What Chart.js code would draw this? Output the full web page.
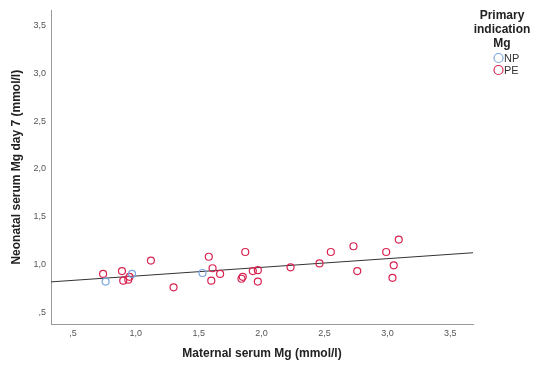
<!DOCTYPE html>
<html>
<head>
<meta charset="utf-8">
<script src="https://cdn.jsdelivr.net/npm/chart.js@4/dist/chart.umd.min.js"></script>
<style>
  html, body { margin: 0; padding: 0; background: #fff; }
  #wrap { width: 537px; height: 367px; }
</style>
</head>
<body>
<div id="wrap"><canvas id="chart" width="537" height="367"></canvas></div>
<script>
// NP points (maternal Mg, neonatal Mg day 7)
const npX = [0.76, 0.97, 1.53];
const npY = [0.82, 0.90, 0.91];

// PE points
const peX = [0.74, 0.89, 0.90, 0.95, 0.94, 1.12, 1.30, 1.58, 1.61, 1.60, 1.67, 1.87, 1.85, 1.84,
             1.93, 1.97, 1.97, 2.23, 2.46, 2.55, 2.73, 2.76, 2.99, 3.09, 3.05, 3.04];
const peY = [0.90, 0.93, 0.83, 0.87, 0.84, 1.04, 0.76, 1.08, 0.96, 0.83, 0.90, 1.13, 0.87, 0.85,
             0.93, 0.94, 0.82, 0.97, 1.01, 1.13, 1.19, 0.93, 1.13, 1.26, 0.99, 0.86];

// fit line end points
const fitX = [0.326, 3.68];
const fitY = [0.817, 1.122];

const xTicks = [0.5, 1.0, 1.5, 2.0, 2.5, 3.0, 3.5];
const yTicks = [0.5, 1.0, 1.5, 2.0, 2.5, 3.0, 3.5];

const npColor = "#79a6e0";
const peColor = "#d92452";

function toPoints(xs, ys) {
  return xs.map((x, i) => ({ x: x, y: ys[i] }));
}

function fmt(v) {
  if (v === 0.5) return ",5";
  return v.toFixed(1).replace(".", ",");
}

const overlay = {
  id: "overlay",
  afterDraw(chart) {
    const ctx = chart.ctx;
    const area = chart.chartArea;
    ctx.save();
    ctx.fillStyle = "#222";
    ctx.font = "bold 12px 'Liberation Sans', Arial, sans-serif";
    ctx.textAlign = "center";
    ctx.textBaseline = "middle";
    // x title
    ctx.fillText("Maternal serum Mg (mmol/l)", (area.left + area.right) / 2, 354);
    // y title
    ctx.save();
    ctx.translate(17, (area.top + area.bottom) / 2);
    ctx.rotate(-Math.PI / 2);
    ctx.fillText("Neonatal serum Mg day 7 (mmol/l)", 0, 0);
    ctx.restore();

    // legend
    ctx.fillText("Primary", 502, 16);
    ctx.fillText("indication", 502, 30);
    ctx.fillText("Mg", 502, 44);
    const items = [["NP", npColor, 58], ["PE", peColor, 70]];
    ctx.font = "11px 'Liberation Sans', Arial, sans-serif";
    ctx.textAlign = "left";
    items.forEach(([label, color, y]) => {
      ctx.beginPath();
      ctx.arc(498.5, y, 4.5, 0, Math.PI * 2);
      ctx.strokeStyle = color;
      ctx.lineWidth = 1.2;
      ctx.stroke();
      ctx.fillStyle = "#333";
      ctx.fillText(label, 504, y + 0.5);
    });
    ctx.restore();
  },
};

new Chart(document.getElementById("chart"), {
  type: "scatter",
  data: {
    datasets: [
      {
        label: "Fit",
        type: "line",
        data: toPoints(fitX, fitY),
        borderColor: "#333",
        borderWidth: 1,
        pointRadius: 0,
        fill: false,
        order: 3,
      },
      {
        label: "NP",
        data: toPoints(npX, npY),
        borderColor: npColor,
        backgroundColor: "rgba(0,0,0,0)",
        pointRadius: 3.5,
        pointBorderWidth: 1.2,
        order: 1,
      },
      {
        label: "PE",
        data: toPoints(peX, peY),
        borderColor: peColor,
        backgroundColor: "rgba(0,0,0,0)",
        pointRadius: 3.5,
        pointBorderWidth: 1.2,
        order: 2,
      },
    ],
  },
  options: {
    responsive: false,
    animation: false,
    layout: { padding: { left: 0, right: 64, top: 5, bottom: 0 } },
    plugins: {
      legend: { display: false },
      tooltip: { enabled: false },
    },
    scales: {
      x: {
        type: "linear",
        min: 0.326,
        max: 3.68,
        afterFit: (scale) => { scale.height = 43; },
        afterBuildTicks: (scale) => { scale.ticks = xTicks.map((v) => ({ value: v })); },
        grid: { display: false, drawTicks: false },
        border: { display: true, color: "#999", width: 1 },
        ticks: {
          padding: 4,
          color: "#555",
          font: { size: 9, family: "'Liberation Sans', Arial, sans-serif" },
          callback: (v) => fmt(v),
        },
      },
      y: {
        type: "linear",
        min: 0.376,
        max: 3.66,
        afterFit: (scale) => { scale.width = 51; },
        afterBuildTicks: (scale) => { scale.ticks = yTicks.map((v) => ({ value: v })); },
        grid: { display: false, drawTicks: false },
        border: { display: true, color: "#999", width: 1 },
        ticks: {
          padding: 5,
          color: "#555",
          font: { size: 9, family: "'Liberation Sans', Arial, sans-serif" },
          callback: (v) => fmt(v),
        },
      },
    },
  },
  plugins: [overlay],
});
</script>
</body>
</html>
